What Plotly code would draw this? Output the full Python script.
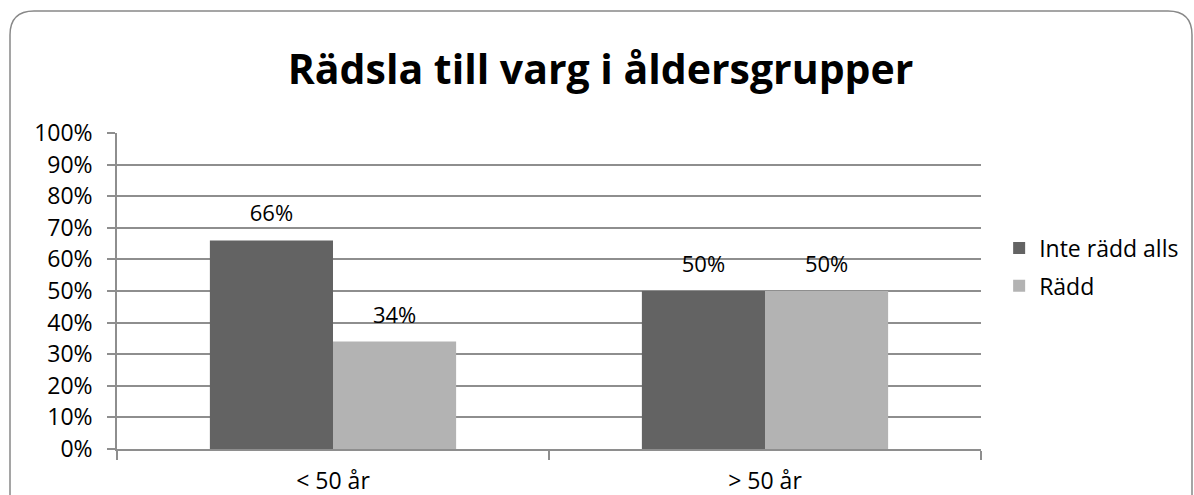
import plotly.graph_objects as go

# data
categories = ["< 50 år", "> 50 år"]
inte_radd = [0.66, 0.50]
radd = [0.34, 0.50]
series_names = ["Inte rädd alls", "Rädd"]
series_colors = ["#636363", "#b3b3b3"]

W, H = 1194, 495
ML, MR, MT, MB = 117, 213, 133, 46
PW, PH = W - ML - MR, H - MT - MB
FONT = "Open Sans"
GRID = "#8e8e8e"


def px_x(x):
    return (x - ML) / PW


def px_y(y):
    return (H - MB - y) / PH


def frame_path(x0, y0, x1, y1, r):
    # rounded rectangle, pixel coords -> paper coords
    rx, ry = r / PW, r / PH
    a, b, c, d = px_x(x0), px_y(y0), px_x(x1), px_y(y1)
    return (f"M {a},{d} L {a},{b - ry} Q {a},{b} {a + rx},{b} "
            f"L {c - rx},{b} Q {c},{b} {c},{b - ry} L {c},{d + ry} "
            f"Q {c},{d} {c - rx},{d} L {a + rx},{d} Q {a},{d} {a},{d + ry} Z")


fig = go.Figure()
for name, vals, col, grp in zip(series_names, [inte_radd, radd], series_colors, ["a", "b"]):
    fig.add_trace(go.Bar(
        x=categories, y=vals, name=name, offsetgroup=grp, legendgroup=grp,
        marker=dict(color=col, line=dict(width=0)),
    ))
    fig.add_trace(go.Scatter(
        x=categories, y=vals, mode="markers+text", offsetgroup=grp,
        text=[f"{v:.0%}" for v in vals], textposition="top center",
        textfont=dict(family=FONT, size=22, color="#000000"),
        marker=dict(size=20, opacity=0), showlegend=False, hoverinfo="skip",
        cliponaxis=False,
    ))

fig.update_layout(
    width=W, height=H,
    margin=dict(l=ML, r=MR, t=MT, b=MB, autoexpand=False),
    paper_bgcolor="white", plot_bgcolor="white",
    barmode="group", bargap=0.43, bargroupgap=0,
    scattermode="group", scattergap=0.43,
    font=dict(family=FONT, size=23, color="#000000"),
    title=dict(text="<b>Rädsla till varg i åldersgrupper</b>",
               x=0.503, xanchor="center", y=0.86, yanchor="middle",
               font=dict(family=FONT, size=41, color="#000000")),
    legend=dict(x=1.021, xanchor="left", y=0.576, yanchor="middle",
                font=dict(family=FONT, size=23), itemclick=False,
                traceorder="grouped", tracegroupgap=5),
    showlegend=True,
    shapes=[dict(type="path", xref="paper", yref="paper",
                 path=frame_path(10, 11, 1192, 520, 24),
                 line=dict(color="#888888", width=1.5), layer="below")],
)
fig.update_xaxes(
    automargin=False,
    showgrid=False, showline=True, linecolor=GRID, linewidth=1.5,
    ticks="outside", tickson="boundaries", ticklen=9, tickcolor=GRID,
    tickwidth=1.5, tickfont=dict(family=FONT, size=23), ticklabelstandoff=11,
)
fig.update_yaxes(
    automargin=False,
    range=[0, 1], dtick=0.1, tickformat=".0%",
    showgrid=True, gridcolor=GRID, gridwidth=1.5,
    showline=True, linecolor=GRID, linewidth=1.5,
    ticks="outside", ticklen=8, tickcolor=GRID, tickwidth=1.5,
    tickfont=dict(family=FONT, size=23), zeroline=False,
    ticklabelstandoff=10,
)

fig.write_html(
    "out.html",
    config={"displayModeBar": False},
    post_script="document.body.style.margin='0px';document.body.style.overflow='hidden';",
)
